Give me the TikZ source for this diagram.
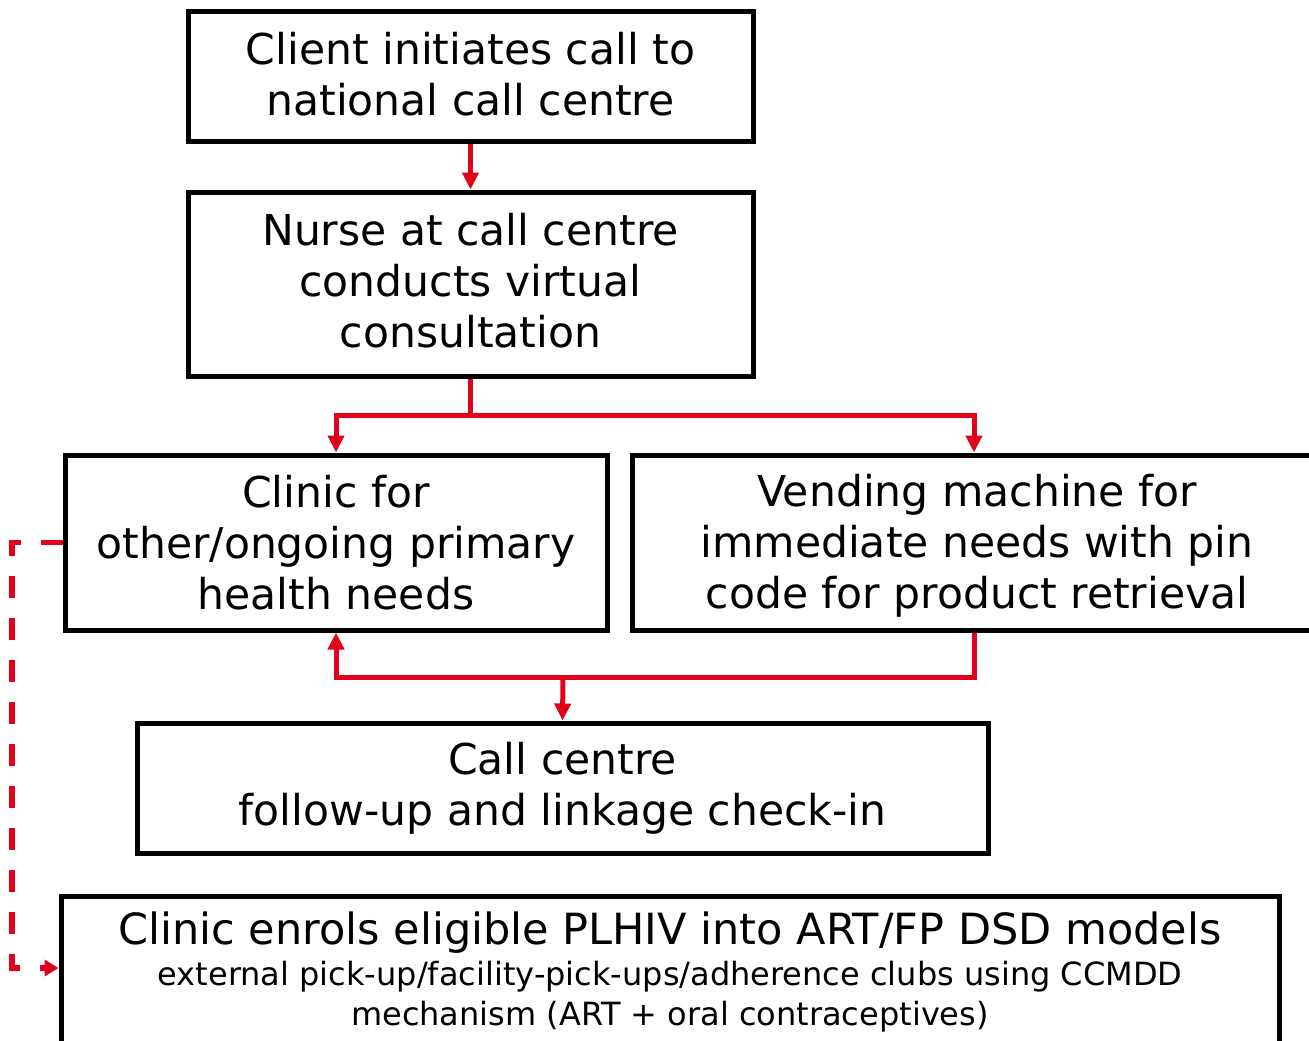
\documentclass[tikz,border=0pt]{standalone}
\usepackage{fontspec}
\setmainfont{DejaVu Sans}
\usetikzlibrary{arrows.meta}
\definecolor{cred}{HTML}{E2001A}
\tikzset{
  box/.style={draw=black, line width=5pt, fill=white, align=center, inner sep=0pt, font=\fontsize{42.5}{51}\selectfont},
  conn/.style={draw=cred, line width=5pt},
  arr/.style={conn, -{Triangle[length=17pt,width=16pt]}},
  dconn/.style={draw=cred, line width=5.5pt, dash pattern=on 22pt off 20pt},
}
\begin{document}
\begin{tikzpicture}[x=1pt,y=-1pt]
\useasboundingbox (0,0) rectangle (1309,1041);
\clip (0,0) rectangle (1309,1041);
\node[box, minimum width=565pt, minimum height=129pt] (b1) at (470.5,76.5) {Client initiates call to\\national call centre\rule[-6pt]{0pt}{1pt}};
\node[box, minimum width=565pt, minimum height=184pt] (b2) at (470.5,284) {Nurse at call centre\\conducts virtual\\consultation\rule[-8pt]{0pt}{1pt}};
\node[box, minimum width=542pt, minimum height=175pt] (b3) at (336,542.5) {Clinic for\\other/ongoing primary\\health needs};
\node[box, minimum width=690pt, minimum height=175pt] (b4) at (977,542.5) {\rule{0pt}{38pt}Vending machine for\\immediate needs with pin\\code for product retrieval};
\node[box, minimum width=851pt, minimum height=130pt] (b5) at (562.5,788) {Call centre\\follow-up and linkage check-in};
\node[box, minimum width=1218pt, minimum height=160pt, anchor=north] (b6) at (670,894) {};
\node[align=center, font=\fontsize{43}{44}\selectfont] (t6) at (670,933) {Clinic enrols eligible PLHIV into ART/FP DSD models};
\node[align=center, font=\fontsize{32}{40}\selectfont, anchor=north] (t6b) at (670,958) {external pick-up/facility-pick-ups/adherence clubs using CCMDD\\mechanism (ART + oral contraceptives)};
\coordinate (j1) at (470.5,415);
\coordinate (j2) at (563,677);
\draw[arr] (b1.south) -- (b2.north);
\draw[conn] (b2.south) -- (j1);
\draw[arr] (j1) -| (b3.north);
\draw[arr] (j1) -| ([xshift=-3pt]b4.north);
\draw[arr] ([xshift=-3pt]b4.south) |- (j2) -| (b3.south);
\draw[arr] (j2) -- (b5.north);
\draw[dconn, -{Triangle[length=14pt,width=16pt]}] (b3.west) -- (12,542.5) |- (b6.west |- 0,968) ;
\end{tikzpicture}
\end{document}
